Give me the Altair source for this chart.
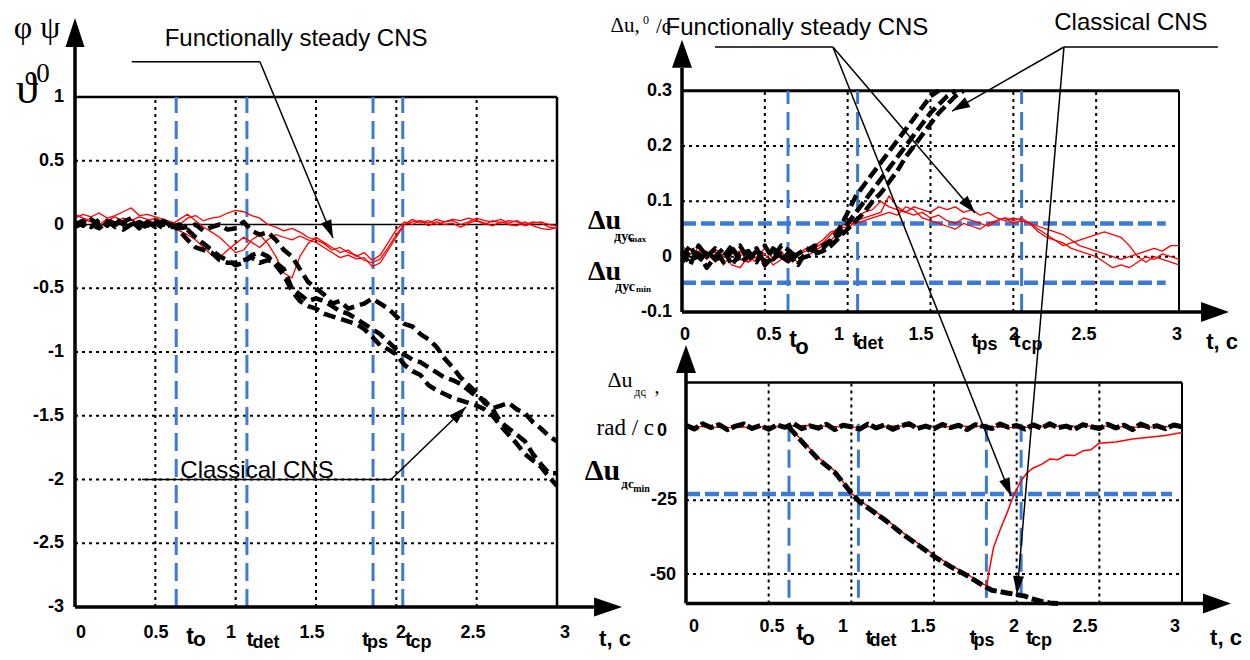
import math
import altair as alt
import pandas as pd

W, H = 1234, 644
SANS = "Liberation Sans, Arial, Helvetica, sans-serif"
SERIF = "Liberation Serif, Times New Roman, DejaVu Serif, serif"
RED = "#ff0000"
BLUE = "#3c7bd4"

# ---------------- data ----------------
T05 = [round(0.05 * i, 2) for i in range(61)]

# left panel: angles (deg)
left_black_1 = [0.0, 0.03, -0.02, 0.04, -0.01, 0.05, 0.0, 0.03, -0.03, 0.02, -0.02, 0.03, -0.01,
                -0.03, -0.02, 0.0, -0.05, -0.02, 0.0, -0.04, -0.03,
                0.02, -0.05, -0.08, -0.06, -0.12, -0.2, -0.25, -0.35, -0.45, -0.5,
                -0.55, -0.62, -0.6, -0.66, -0.64, -0.62, -0.58, -0.62, -0.66, -0.72,
                -0.78, -0.8, -0.86, -0.9, -0.96, -1.05, -1.12, -1.2, -1.26, -1.32,
                -1.4, -1.44, -1.42, -1.4, -1.45, -1.48, -1.55, -1.6, -1.66, -1.7]
left_black_2 = [0.02, -0.01, 0.04, 0.0, 0.03, -0.02, 0.02, 0.05, 0.0, -0.02, 0.01, -0.03, 0.0,
                -0.05, -0.12, -0.18, -0.2, -0.22, -0.28, -0.3, -0.3,
                -0.28, -0.26, -0.3, -0.28, -0.3, -0.35, -0.5, -0.55, -0.6, -0.58,
                -0.6, -0.64, -0.68, -0.7, -0.74, -0.78, -0.82, -0.86, -0.92, -0.98,
                -1.02, -1.06, -1.08, -1.12, -1.16, -1.2, -1.22, -1.25, -1.3, -1.35,
                -1.38, -1.45, -1.55, -1.6, -1.65, -1.7, -1.8, -1.88, -1.95, -1.95]
left_black_3 = [-0.02, 0.01, 0.0, -0.03, 0.02, 0.01, -0.04, 0.0, 0.02, -0.01, 0.03, 0.0, -0.02,
                0.0, -0.04, -0.1, -0.15, -0.2, -0.25, -0.28, -0.32,
                -0.3, -0.24, -0.22, -0.25, -0.32, -0.4, -0.52, -0.6, -0.64, -0.66,
                -0.7, -0.72, -0.74, -0.76, -0.78, -0.82, -0.88, -0.95, -0.98, -1.02,
                -1.1, -1.15, -1.18, -1.26, -1.3, -1.33, -1.36, -1.38, -1.4, -1.42,
                -1.45, -1.5, -1.58, -1.65, -1.72, -1.8, -1.85, -1.9, -1.98, -2.05]
left_red_1 = [0.05, 0.08, 0.06, 0.09, 0.05, 0.07, 0.1, 0.13, 0.07, 0.08, 0.06, 0.04, 0.02,
              0.0, 0.05, 0.07, 0.03, 0.05, 0.06, 0.09, 0.11,
              0.1, 0.07, 0.05, 0.0, -0.02, -0.05, -0.03, -0.06, -0.1, -0.12,
              -0.15, -0.2, -0.18, -0.22, -0.24, -0.28, -0.3, -0.27, -0.18, -0.08,
              0.0, 0.02, 0.03, 0.01, 0.04, 0.02, 0.03, 0.0, 0.02, 0.05,
              0.03, 0.02, 0.04, 0.01, 0.03, 0.0, 0.02, 0.01, -0.02, -0.03]
left_red_2 = [0.0, 0.04, 0.02, -0.02, 0.03, 0.06, 0.02, 0.04, 0.0, 0.03, 0.05, 0.02, -0.02,
              -0.05, -0.08, -0.12, -0.18, -0.24, -0.26, -0.2, -0.15,
              -0.1, -0.14, -0.18, -0.12, -0.08, -0.1, -0.12, -0.09, -0.12, -0.14,
              -0.18, -0.22, -0.26, -0.24, -0.27, -0.26, -0.33, -0.3, -0.2, -0.1,
              0.0, 0.04, 0.01, 0.03, 0.0, 0.02, 0.04, 0.03, 0.05, 0.03,
              0.0, 0.03, 0.01, 0.03, 0.02, -0.01, 0.01, 0.02, 0.0, -0.01]
left_red_3 = [0.08, 0.05, 0.03, 0.0, 0.04, 0.02, 0.05, 0.03, 0.06, 0.04, 0.01, 0.03, 0.0,
              0.04, 0.08, 0.03, -0.02, -0.06, -0.1, -0.16, -0.22,
              -0.2, -0.12, -0.08, -0.15, -0.25, -0.38, -0.42, -0.25, -0.15, -0.1,
              -0.14, -0.18, -0.22, -0.2, -0.25, -0.22, -0.28, -0.24, -0.14, -0.04,
              0.02, 0.0, 0.03, -0.01, 0.02, 0.0, 0.01, -0.02, 0.01, 0.03,
              0.01, -0.01, 0.02, 0.0, -0.01, 0.02, -0.01, -0.03, -0.04, -0.02]

# top-right panel: gyro sensor error
tr_black_1 = [0.01, -0.015, 0.02, 0.0, 0.015, -0.01, 0.01, 0.02, -0.005, 0.01, -0.01, 0.015, 0.0,
              -0.01, 0.005, 0.015, 0.01, 0.02,
              0.03, 0.05, 0.08, 0.11, 0.13, 0.15, 0.17, 0.19, 0.21, 0.23, 0.25, 0.27, 0.29, 0.3]
tr_black_2 = [-0.01, 0.01, 0.005, -0.02, 0.0, 0.015, -0.015, 0.005, 0.01, -0.01, 0.02, -0.005, 0.01,
              0.0, -0.015, 0.01, 0.02, 0.015,
              0.03, 0.04, 0.06, 0.08, 0.1, 0.12, 0.14, 0.16, 0.18, 0.2, 0.22, 0.24, 0.26, 0.275, 0.29, 0.3]
tr_black_3 = [0.0, 0.02, -0.01, 0.01, -0.005, 0.0, 0.02, -0.01, 0.0, 0.015, -0.015, 0.0, 0.02,
              0.01, -0.005, 0.0, 0.005, 0.01,
              0.02, 0.035, 0.05, 0.065, 0.08, 0.1, 0.115, 0.135, 0.155, 0.18, 0.2, 0.22, 0.24, 0.26,
              0.275, 0.29, 0.3]
tr_red_1 = [0.01, -0.01, 0.02, 0.0, 0.01, -0.015, 0.005, 0.01, -0.01, 0.0, 0.015, -0.005, 0.0,
            0.01, 0.005, 0.015, 0.02, 0.03, 0.045, 0.05, 0.055,
            0.07, 0.08, 0.085, 0.1, 0.09, 0.085, 0.08, 0.09, 0.085, 0.08,
            0.09, 0.085, 0.09, 0.08, 0.085, 0.075, 0.08, 0.07, 0.065, 0.07,
            0.065, 0.06, 0.055, 0.05, 0.045, 0.04, 0.03, 0.02, 0.015, 0.01,
            0.005, 0.0, -0.005, 0.0, 0.005, 0.01, 0.015, 0.01, 0.02, 0.02]
tr_red_2 = [0.0, 0.015, -0.005, 0.01, -0.01, 0.005, -0.015, -0.02, 0.0, -0.01, 0.005, -0.015, -0.005,
            0.0, -0.01, 0.0, 0.01, 0.02, 0.03, 0.045, 0.05,
            0.065, 0.07, 0.075, 0.08, 0.11, 0.09, 0.08, 0.075, 0.08, 0.07,
            0.075, 0.065, 0.06, 0.07, 0.065, 0.06, 0.055, 0.065, 0.07, 0.065,
            0.07, 0.06, 0.045, 0.035, 0.03, 0.02, 0.025, 0.03, 0.035, 0.04,
            0.045, 0.04, 0.035, 0.02, 0.0, -0.01, 0.0, -0.005, -0.01, -0.015]
tr_red_3 = [0.02, 0.005, 0.01, -0.005, 0.015, 0.0, 0.01, -0.005, -0.01, 0.01, -0.02, 0.0, 0.01,
            -0.01, 0.005, 0.01, 0.015, 0.025, 0.04, 0.055, 0.06,
            0.06, 0.065, 0.07, 0.075, 0.08, 0.075, 0.09, 0.085, 0.07, 0.065,
            0.06, 0.055, 0.05, 0.06, 0.055, 0.05, 0.06, 0.065, 0.07, 0.06,
            0.065, 0.06, 0.05, 0.04, 0.03, 0.025, 0.015, 0.01, 0.005, 0.0,
            -0.01, -0.02, -0.015, -0.02, -0.01, 0.0, -0.005, 0.005, 0.0, -0.005]

# bottom-right panel: angular rate sensor error
br_black_zero = [0.5, -0.8, 1.0, -0.3, 0.7, -1.0, 0.2, 0.9, -0.6, 0.4, -0.9, 0.6, -0.2,
                 1.1, -0.7, 0.3, -0.5, 0.8, -1.0, 0.5, 0.0,
                 -0.8, 0.9, -0.4, 0.6, -0.9, 0.3, 1.0, -0.6, 0.2, -0.7,
                 0.8, -0.3, 0.5, -1.0, 0.7, 0.1, -0.6, 0.9, -0.2, 0.4,
                 -0.8, 0.6, -0.5, 1.0, -0.3, 0.2, -0.9, 0.7, 0.0, -0.6,
                 0.8, -0.4, 0.5, -1.0, 0.9, -0.2, 0.3, -0.7, 0.6, 0.0]
br_red_zero_t = [0.0, 0.25, 0.5, 0.75, 1.0, 1.25, 1.5, 1.75, 2.0, 2.25, 2.5, 2.75, 3.0]
br_red_zero = [0.2, -0.3, 0.1, 0.4, -0.2, 0.3, -0.1, 0.2, -0.3, 0.1, 0.3, -0.2, 0.1]
br_black_fail_t = [0.62, 0.7, 0.8, 0.9, 1.0, 1.05, 1.1, 1.2, 1.3, 1.4, 1.5, 1.6, 1.7, 1.8,
                   1.85, 1.9, 1.95, 2.0, 2.05, 2.1, 2.15, 2.2, 2.25]
br_black_fail = [0.0, -5.0, -11.0, -15.5, -22.5, -25.5, -27.5, -31.5, -36.0, -40.0, -44.0, -47.5,
                 -50.5, -54.0, -55.5, -56.0, -56.5, -57.0, -57.5, -58.5, -59.3, -59.8, -60.0]
br_red_fail_t = [0.62, 0.7, 0.8, 0.9, 1.0, 1.05, 1.1, 1.2, 1.3, 1.4, 1.5, 1.6, 1.7, 1.8, 1.82,
                 1.83, 1.86, 1.9, 1.94, 1.98, 2.02, 2.06, 2.1, 2.15, 2.2, 2.25, 2.3, 2.35, 2.4,
                 2.45, 2.5, 2.6, 2.7, 2.8, 2.9, 3.0]
br_red_fail = [0.0, -4.5, -10.5, -15.0, -22.5, -25.0, -27.0, -31.0, -35.5, -39.5, -43.5, -47.0,
               -50.0, -53.5, -54.0, -50.0, -41.0, -35.0, -29.5, -23.5, -19.0, -15.8, -14.0, -12.8,
               -11.0, -11.2, -9.6, -9.8, -8.2, -7.8, -5.6, -5.2, -4.2, -3.6, -3.0, -2.0]

# event times
left_events = [0.63, 1.07, 1.855, 2.04]
tr_events = [0.64, 1.06, 2.05]
br_events = [0.623, 1.043, 1.817, 2.027]
tr_limits = [0.06, -0.047]
br_limit = [-22.8]

t_ticks = [0, 0.5, 1, 1.5, 2, 2.5, 3]
t_tick_labels = ["0", "0.5", "1", "1.5", "2", "2.5", "3"]
# where the printed tick labels sit along t (they are slightly offset from the ticks)
left_label_t = [0.037, 0.504, 0.971, 1.475, 2.029, 2.477, 3.05]
tr_label_t = [0.018, 0.525, 0.948, 1.443, 2.004, 2.427, 2.988]
br_label_t = [0.048, 0.52, 0.95, 1.433, 1.984, 2.413, 2.958]
left_y_ticks = [1, 0.5, 0, -0.5, -1, -1.5, -2, -2.5, -3]
left_y_labels = ["1", "0.5", "0", "-0.5", "-1", "-1.5", "-2", "-2.5", "-3"]
tr_y_ticks = [0.3, 0.2, 0.1, 0, -0.1]
tr_y_labels = ["0.3", "0.2", "0.1", "0", "-0.1"]


# ---------------- helpers ----------------
def domain(v_a, p_a, v_b, p_b, total):
    """Scale domain so that value v_a sits at page pixel p_a and v_b at p_b."""
    k = (p_b - p_a) / (v_b - v_a)
    lo = v_a + (8 - p_a) / k
    hi = v_a + (8 + total - p_a) / k
    return sorted([lo, hi]), abs(k)


class Panel:
    def __init__(self, dx, dy):
        (self.dx, self.kx), (self.dy, self.ky) = dx, dy
        self.layers = []

    def X(self, f="x"):
        return alt.X(f"{f}:Q", scale=alt.Scale(domain=self.dx, nice=False, zero=False), axis=None)

    def Y(self, f="y"):
        return alt.Y(f"{f}:Q", scale=alt.Scale(domain=self.dy, nice=False, zero=False), axis=None)

    def rules(self, segs, color="black", width=1.5, dash=None, cap="butt"):
        df = pd.DataFrame(segs, columns=["x", "y", "x2", "y2"])
        kw = dict(color=color, strokeWidth=width, strokeCap=cap)
        if dash:
            kw["strokeDash"] = dash
        self.layers.append(alt.Chart(df).mark_rule(**kw).encode(
            x=self.X(), y=self.Y(), x2="x2:Q", y2="y2:Q"))

    def lines(self, series, color, width, dash=None):
        rows = []
        for sid, (ts, vs) in enumerate(series):
            for i, (t, v) in enumerate(zip(ts, vs)):
                rows.append({"x": t, "y": v, "s": sid, "o": i})
        kw = dict(color=color, strokeWidth=width, strokeJoin="round")
        if dash:
            kw["strokeDash"] = dash
            kw["strokeCap"] = "butt"
        self.layers.append(alt.Chart(pd.DataFrame(rows)).mark_line(**kw).encode(
            x=self.X(), y=self.Y(), detail="s:N", order="o:Q"))

    def heads(self, items, length, half):
        rows = []
        for (x0, y0, x1, y1) in items:
            dxp = (x1 - x0) * self.kx
            dyp = -(y1 - y0) * self.ky
            ang = math.degrees(math.atan2(dxp, -dyp)) % 360
            rows.append({"x": x1, "y": y1, "a": ang, "sz": (2 * length) ** 2})
        shape = f"M0,0L{-half / length:.3f},1L{half / length:.3f},1Z"
        self.layers.append(alt.Chart(pd.DataFrame(rows)).mark_point(
            shape=shape, filled=True, color="black", opacity=1, strokeWidth=0).encode(
            x=self.X(), y=self.Y(), angle=alt.Angle("a:Q", scale=None),
            size=alt.Size("sz:Q", scale=None)))

    def texts(self, rows, font=SANS, weight="normal", align="center", baseline="middle"):
        df = pd.DataFrame(rows, columns=["x", "y", "label", "size"])
        self.layers.append(alt.Chart(df).mark_text(
            font=font, fontWeight=weight, align=align, baseline=baseline, color="black").encode(
            x=self.X(), y=self.Y(), text="label:N", size=alt.Size("size:Q", scale=None)))

    def chart(self):
        return alt.layer(*self.layers)


GRID_DASH = [3, 4]
TICK_SIZE = 18

# ================= LEFT PANEL =================
L = Panel(domain(0, 75, 3, 557, W), domain(-3, 607, 1, 97, H))
L.rules([[t, -3, t, 1] for t in [0.5, 1, 1.5, 2, 2.5]], width=2, dash=GRID_DASH)
L.rules([[0, v, 3, v] for v in [0.5, -0.5, -1, -1.5, -2, -2.5]], width=2, dash=GRID_DASH)
L.rules([[0, 0, 3, 0]], width=1.3)
L.rules([[0, 1, 3, 1], [3, -3, 3, 1]], width=2.5)
L.rules([[t, -3, t, 1] for t in left_events], color=BLUE, width=3, dash=[18, 8])
L.lines([(T05, left_red_1), (T05, left_red_2), (T05, left_red_3)], RED, 1.3)
L.lines([(T05, left_black_1), (T05, left_black_2), (T05, left_black_3)], "black", 4.5, [12, 6])
L.rules([[0, -3, 0, 1.392], [0, -3, 3.23, -3]], width=3.5)
L.heads([(0, 0, 0, 1.62)], 29, 9.5)
L.heads([(0, -3, 3.405, -3)], 28, 9.5)
# leader lines
L.rules([[0.353, 1.277, 1.151, 1.277], [1.151, 1.277, 1.606, -0.106],
         [0.417, -2.0, 1.967, -2.0], [1.967, -2.0, 2.434, -1.431]], width=1.5)
L.heads([(1.151, 1.277, 1.606, -0.106), (1.967, -2.0, 2.434, -1.431)], 18, 5.5)
L.texts([[1.376, 1.455, "Functionally steady CNS", 24]])
L.texts([[1.133, -1.985, "Classical CNS", 24]], baseline="alphabetic")
# ticks
L.texts([[t, -3.204, s, TICK_SIZE] for t, s in zip(left_label_t, t_tick_labels)], weight="bold")
L.texts([[-0.068, v, s, TICK_SIZE] for v, s in zip(left_y_ticks, left_y_labels)],
        weight="bold", align="right")
L.texts([[0.716, -3.235, "t", 23], [1.089, -3.259, "t", 21], [1.808, -3.259, "t", 21],
         [2.076, -3.259, "t", 21], [3.361, -3.251, "t, c", 22]], weight="bold")
L.texts([[0.775, -3.255, "o", 21], [1.189, -3.28, "det", 18], [1.883, -3.28, "ps", 18],
         [2.154, -3.28, "cp", 18]], weight="bold")
L.texts([[-0.236, 1.541, "φ ψ", 32], [-0.299, 1.055, "ϑ", 44], [-0.199, 1.18, "0", 27]], font=SERIF)

# ================= TOP-RIGHT PANEL =================
TR = Panel(domain(0, 682, 3, 1179, W), domain(-0.1, 312, 0.3, 90.7, H))
TR.rules([[t, -0.1, t, 0.3] for t in [0.5, 1, 1.5, 2, 2.5]], width=2, dash=GRID_DASH)
TR.rules([[0, v, 3, v] for v in [0.2, 0.1, 0.0]], width=2, dash=GRID_DASH)
TR.rules([[0, 0.3, 3, 0.3]], width=3)
TR.rules([[3, -0.1, 3, 0.3]], width=2)
TR.rules([[t, -0.1, t, 0.3] for t in tr_events], color=BLUE, width=3, dash=[18, 8])
TR.rules([[0, v, 2.92, v] for v in tr_limits], color=BLUE, width=4.5, dash=[14, 5])
TR.lines([(T05, tr_red_1), (T05, tr_red_2), (T05, tr_red_3)], RED, 1.3)
TR.lines([(T05[:len(tr_black_1)], tr_black_1), (T05[:len(tr_black_2)], tr_black_2),
          (T05[:len(tr_black_3)], tr_black_3)], "black", 4.5, [12, 5])
TR.rules([[0, -0.1, 0, 0.341], [0, -0.1, 3.133, -0.1]], width=3.5)
TR.heads([(0, 0, 0, 0.392)], 28, 10)
TR.heads([(0, -0.1, 3.302, -0.1)], 28, 10)
TR.texts([[-0.344, 0.417, "Δu,", 21], [-0.217, 0.428, "0", 12]], font=SERIF)
TR.texts([[-0.157, 0.4155, "/c", 21]], font=SERIF, align="left")
TR.rules([[0.199, 0.379, 0.911, 0.379], [0.911, 0.379, 1.769, 0.079],
          [3.235, 0.379, 2.306, 0.379], [2.306, 0.379, 1.63, 0.2632]], width=1.5)
TR.heads([(0.911, 0.379, 1.769, 0.079), (2.306, 0.379, 1.63, 0.2632)], 18, 5.5)
TR.texts([[0.694, 0.4134, "Functionally steady CNS", 24], [2.71, 0.4225, "Classical CNS", 24]])
TR.texts([[t, -0.1415, s, TICK_SIZE] for t, s in zip(tr_label_t, t_tick_labels)], weight="bold")
TR.texts([[-0.06, v, s, TICK_SIZE] for v, s in zip(tr_y_ticks, tr_y_labels)],
         weight="bold", align="right")
TR.texts([[0.67, -0.1507, "t", 23], [1.05, -0.1507, "t", 21], [1.769, -0.1525, "t", 21],
          [2.022, -0.1525, "t", 21], [3.26, -0.1542, "t, c", 22]], weight="bold")
TR.texts([[0.724, -0.1632, "o", 22], [1.135, -0.1578, "det", 18], [1.841, -0.1596, "ps", 18],
          [2.113, -0.1596, "cp", 18]], weight="bold")
TR.texts([[-0.468, 0.0645, "Δu", 28], [-0.468, -0.0277, "Δu", 28]], font=SERIF, weight="bold")
TR.texts([[-0.35, 0.0356, "дус", 14], [-0.344, -0.0548, "дус", 14]], font=SERIF, weight="bold")
TR.texts([[-0.266, 0.032, "max", 9], [-0.232, -0.0584, "min", 9]], font=SERIF, weight="bold")

# ================= BOTTOM-RIGHT PANEL =================
BR = Panel(domain(0, 686, 3, 1182, W), domain(-60, 603.5, 0, 426.7, H))
BR.rules([[t, -60, t, 15] for t in [0.5, 1, 1.5, 2, 2.5]], width=2, dash=GRID_DASH)
BR.rules([[0, v, 3, v] for v in [-25, -50]], width=2, dash=GRID_DASH)
BR.rules([[0, 15, 3, 15]], width=2.5)
BR.rules([[3, -60, 3, 15]], width=2)
BR.rules([[t, 1, t, -60] for t in br_events], color=BLUE, width=3, dash=[18, 8])
BR.rules([[0, v, 2.94, v] for v in br_limit], color=BLUE, width=4.5, dash=[14, 5])
BR.lines([(br_red_zero_t, br_red_zero)], RED, 1.3)
BR.lines([(T05, br_black_zero)], "black", 5, [14, 3])
BR.lines([(br_red_fail_t, br_red_fail)], RED, 1.5)
BR.lines([(br_black_fail_t, br_black_fail)], "black", 5, [12, 4])
BR.rules([[0, -60, 0, 18.22], [0, -60, 3.127, -60]], width=3.5)
BR.heads([(0, 0, 0, 27.72)], 28, 10)
BR.heads([(0, -60, 3.296, -60)], 28, 10)
BR.rules([[0.889, 128.8, 1.966, -23.5], [2.286, 128.8, 2.002, -56.8]], width=1.5)
BR.heads([(0.889, 128.8, 1.966, -23.5), (2.286, 128.8, 2.002, -56.8)], 18, 5.5)
BR.texts([[t, -67.97, s, TICK_SIZE] for t, s in zip(br_label_t, t_tick_labels)], weight="bold")
BR.texts([[-0.115, -1.46, "0", TICK_SIZE], [-0.054, -24.9, "-25", TICK_SIZE],
          [-0.06, -50.3, "-50", TICK_SIZE]], weight="bold", align="right")
BR.texts([[0.69, -70.0, "t", 23], [1.107, -71.7, "t", 21], [1.736, -71.7, "t", 21],
          [2.078, -71.7, "t", 21], [3.266, -71.7, "t, c", 22]], weight="bold")
BR.texts([[0.741, -72.0, "o", 21], [1.192, -72.8, "det", 18], [1.802, -72.8, "ps", 18],
          [2.15, -72.8, "cp", 18]], weight="bold")
BR.texts([[-0.399, 15.84, "Δu", 22], [-0.278, 11.77, "дс", 12], [-0.248, 10.3, "i", 8],
          [-0.175, 13.47, ",", 20]], font=SERIF)
BR.texts([[-0.1935, -0.44, "rad / c", 23]], font=SERIF, align="right")
BR.texts([[-0.505, -15.2, "Δu", 30], [-0.354, -19.44, "дс", 13], [-0.269, -21.1, "min", 10]],
         font=SERIF, weight="bold")

chart = alt.layer(L.chart(), TR.chart(), BR.chart()).resolve_scale(
    x="independent", y="independent"
).properties(
    width=W, height=H, padding=0, background="white",
    autosize=alt.AutoSizeParams(type="none"),
).configure_view(stroke=None)

chart.save("out.html", embed_options={"renderer": "svg", "actions": False})
